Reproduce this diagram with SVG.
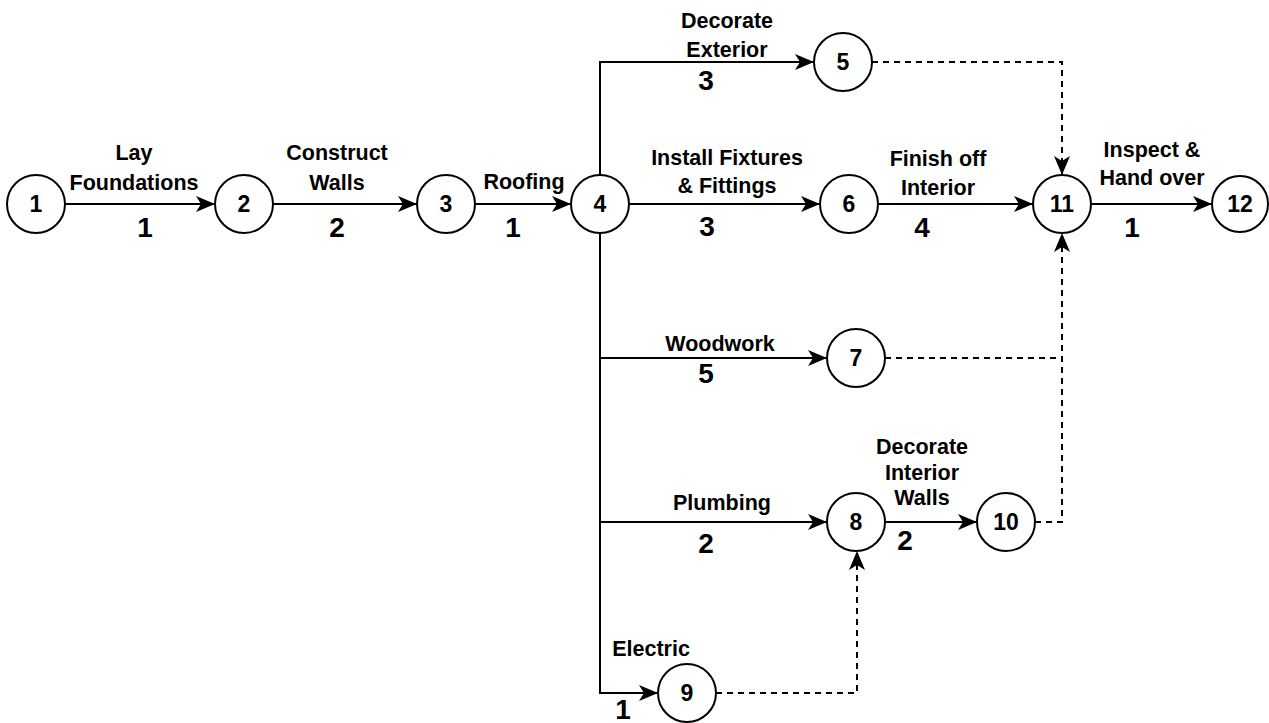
<svg xmlns="http://www.w3.org/2000/svg" width="1269" height="723" viewBox="0 0 1269 723">
<style>
.n circle{fill:#fff;stroke:#000;stroke-width:2}
.n text{font-family:"Liberation Sans",Arial,sans-serif;font-weight:bold;font-size:23px;text-anchor:middle;fill:#000}
.e{fill:none;stroke:#000;stroke-width:2}
.d{fill:none;stroke:#000;stroke-width:2;stroke-dasharray:6 5}
.lb{font-family:"Liberation Sans",Arial,sans-serif;font-weight:bold;font-size:21.5px;text-anchor:middle;fill:#000}
.w{font-family:"Liberation Sans",Arial,sans-serif;font-weight:bold;font-size:28px;text-anchor:middle;fill:#000}
</style>
<defs>
<marker id="arr" markerWidth="20" markerHeight="18" refX="19" refY="9" orient="auto" markerUnits="userSpaceOnUse">
<path d="M0,1 L19,9 L0,17 L5,9 Z" fill="#000" stroke="none"/>
</marker>
</defs>
<rect width="1269" height="723" fill="#fff"/>
<g id="connectors">
<line class="e" x1="65" y1="204" x2="215" y2="204" marker-end="url(#arr)"/>
<line class="e" x1="273" y1="204" x2="417" y2="204" marker-end="url(#arr)"/>
<line class="e" x1="475" y1="204" x2="571" y2="204" marker-end="url(#arr)"/>
<polyline class="e" points="600,175 600,62 814,62" marker-end="url(#arr)"/>
<line class="e" x1="629" y1="204" x2="820" y2="204" marker-end="url(#arr)"/>
<line class="e" x1="878" y1="204" x2="1033" y2="204" marker-end="url(#arr)"/>
<line class="e" x1="1091" y1="204" x2="1212" y2="204" marker-end="url(#arr)"/>
<polyline class="e" points="600,233 600,693 658,693" marker-end="url(#arr)"/>
<line class="e" x1="600" y1="358" x2="827" y2="358" marker-end="url(#arr)"/>
<line class="e" x1="600" y1="522" x2="827" y2="522" marker-end="url(#arr)"/>
<line class="e" x1="885" y1="522" x2="977" y2="522" marker-end="url(#arr)"/>
<polyline class="d" points="872,62 1062,62 1062,175" marker-end="url(#arr)"/>
<line class="d" x1="885" y1="358" x2="1062" y2="358"/>
<polyline class="d" points="1035,522 1062,522 1062,233" marker-end="url(#arr)"/>
<polyline class="d" points="716,693 857,693 857,551" marker-end="url(#arr)"/>
</g>
<g id="labels">
<text class="lb" x="134" y="160">Lay</text>
<text class="lb" x="134" y="190">Foundations</text>
<text class="w" x="145" y="237">1</text>
<text class="lb" x="337" y="160">Construct</text>
<text class="lb" x="337" y="190">Walls</text>
<text class="w" x="337" y="237">2</text>
<text class="lb" x="524" y="189">Roofing</text>
<text class="w" x="513" y="237">1</text>
<text class="lb" x="727" y="28">Decorate</text>
<text class="lb" x="727" y="57">Exterior</text>
<text class="w" x="706" y="90">3</text>
<text class="lb" x="727" y="165">Install Fixtures</text>
<text class="lb" x="727" y="193">&amp; Fittings</text>
<text class="w" x="707" y="236">3</text>
<text class="lb" x="938" y="166">Finish off</text>
<text class="lb" x="938" y="195">Interior</text>
<text class="w" x="922" y="237">4</text>
<text class="lb" x="1152" y="157">Inspect &amp;</text>
<text class="lb" x="1152" y="185">Hand over</text>
<text class="w" x="1132" y="237">1</text>
<text class="lb" x="720" y="351">Woodwork</text>
<text class="w" x="706" y="383">5</text>
<text class="lb" x="722" y="510">Plumbing</text>
<text class="w" x="706" y="553">2</text>
<text class="lb" x="922" y="454">Decorate</text>
<text class="lb" x="922" y="480">Interior</text>
<text class="lb" x="922" y="505">Walls</text>
<text class="w" x="905" y="550">2</text>
<text class="lb" x="651" y="656">Electric</text>
<text class="w" x="623" y="719">1</text>
</g>
<g id="node1" class="n"><circle cx="36" cy="204" r="29"/><text x="36" y="212">1</text></g>
<g id="node2" class="n"><circle cx="244" cy="204" r="29"/><text x="244" y="212">2</text></g>
<g id="node3" class="n"><circle cx="446" cy="204" r="29"/><text x="446" y="212">3</text></g>
<g id="node4" class="n"><circle cx="600" cy="204" r="29"/><text x="600" y="212">4</text></g>
<g id="node5" class="n"><circle cx="843" cy="62" r="29"/><text x="843" y="70">5</text></g>
<g id="node6" class="n"><circle cx="849" cy="204" r="29"/><text x="849" y="212">6</text></g>
<g id="node7" class="n"><circle cx="856" cy="358" r="29"/><text x="856" y="366">7</text></g>
<g id="node8" class="n"><circle cx="856" cy="522" r="29"/><text x="856" y="530">8</text></g>
<g id="node9" class="n"><circle cx="687" cy="693" r="29"/><text x="687" y="701">9</text></g>
<g id="node10" class="n"><circle cx="1006" cy="522" r="29"/><text x="1006" y="530">10</text></g>
<g id="node11" class="n"><circle cx="1062" cy="204" r="29"/><text x="1062" y="212">11</text></g>
<g id="node12" class="n"><circle cx="1240" cy="204" r="28"/><text x="1240" y="212">12</text></g>
</svg>
